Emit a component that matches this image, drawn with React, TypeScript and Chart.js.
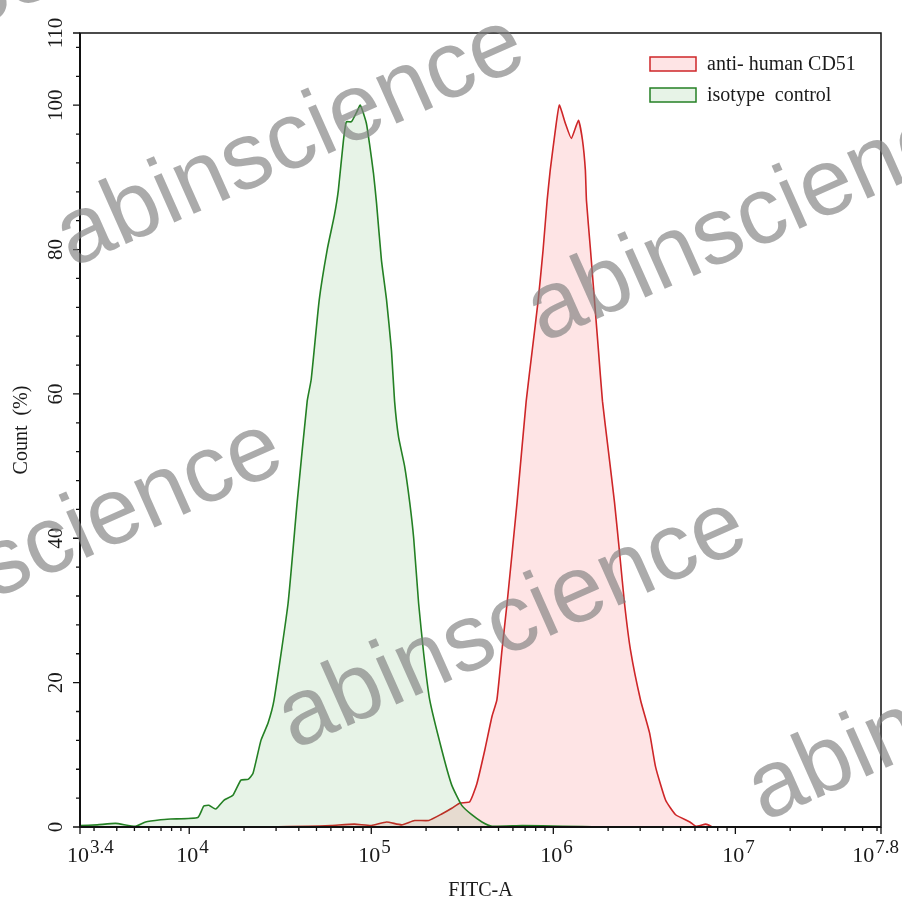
import React, { useEffect, useRef } from 'react';
import { Chart, registerables } from 'chart.js';

Chart.register(...registerables);

// ---- data (x in log10 of FITC-A intensity, y in Count %) ----
const isotypeLog = [3.40, 3.495, 3.595, 3.705, 3.76, 3.843, 3.898, 4.047, 4.08, 4.108, 4.146, 4.19, 4.24, 4.284, 4.323, 4.35, 4.394, 4.433, 4.466, 4.543, 4.593, 4.648, 4.67, 4.714, 4.758, 4.797, 4.819, 4.847, 4.863, 4.891, 4.919, 4.94, 4.973, 4.99, 5.012, 5.029, 5.056, 5.084, 5.111, 5.128, 5.15, 5.183, 5.211, 5.233, 5.26, 5.288, 5.321, 5.387, 5.442, 5.497, 5.552, 5.608, 5.663, 5.829, 6.05, 6.27];
const isotypeCount = [0.2, 0.3, 0.5, 0.1, 0.7, 1.0, 1.1, 1.3, 2.9, 3.0, 2.5, 3.7, 4.4, 6.5, 6.6, 7.4, 12, 14.4, 17.6, 31, 45, 59, 62, 73, 80, 84.7, 88.2, 95.1, 97.7, 97.7, 99, 100, 97.5, 94.7, 90.6, 86.4, 78.5, 73, 66, 59, 54, 50, 45, 40, 31, 24, 17.6, 10.7, 5.8, 3, 1.7, 0.7, 0.1, 0.2, 0.1, 0];

const cd51Log = [4.433, 4.654, 4.78, 4.907, 5.001, 5.084, 5.167, 5.238, 5.316, 5.387, 5.442, 5.486, 5.541, 5.58, 5.624, 5.663, 5.69, 5.718, 5.746, 5.801, 5.851, 5.884, 5.917, 5.944, 5.966, 5.983, 6.011, 6.033, 6.066, 6.099, 6.138, 6.16, 6.176, 6.182, 6.204, 6.226, 6.248, 6.27, 6.303, 6.336, 6.364, 6.391, 6.424, 6.479, 6.529, 6.562, 6.617, 6.672, 6.75, 6.783, 6.838, 6.876];
const cd51Count = [0, 0.1, 0.2, 0.4, 0.2, 0.7, 0.3, 0.9, 0.9, 1.8, 2.6, 3.3, 3.5, 6, 10.7, 15.3, 17.6, 24.5, 31, 45, 59, 66, 73, 80, 86.8, 91, 96.5, 100, 97.5, 95.4, 97.9, 95.2, 91, 86.8, 80, 73, 66, 59, 52, 45, 38, 31, 24.5, 17.6, 13, 8.3, 3.7, 1.7, 0.7, 0.1, 0.4, 0];

const seriesNames = ['anti- human CD51', 'isotype  control'];
const xAxisTitle = 'FITC-A';
const yAxisTitle = 'Count  (%)';
const xMin = 3.4;
const xMax = 7.8;
const xMajorExp = [3.4, 4, 5, 6, 7, 7.8];
const yMajorTicks = [0, 20, 40, 60, 80, 100, 110];
const yMinorTicks = [4, 8, 12, 16, 24, 28, 32, 36, 44, 48, 52, 56, 64, 68, 72, 76, 84, 88, 92, 96, 104, 108];
const watermarkText = 'abinscience';

// styles
const RED_LINE = 'rgb(206,38,40)';
const RED_FILL = 'rgba(245,30,45,0.12)';
const GREEN_LINE = 'rgb(36,128,36)';
const GREEN_FILL = 'rgba(20,140,20,0.10)';
const SERIF = '"Liberation Serif", "Times New Roman", serif';

const watermarkOrigins = [
  [-396, 193],
  [72, 268],
  [543, 343],
  [-170, 672],
  [294, 750],
  [764, 822],
];

const axesPlugin = {
  id: 'customAxes',
  afterDatasetsDraw(chart: any) {
    const { ctx, chartArea } = chart;
    const xs = chart.scales.x;
    const ys = chart.scales.y;
    const { left, right, top, bottom } = chartArea;
    ctx.save();
    // frame
    ctx.strokeStyle = '#111';
    ctx.lineWidth = 1.5;
    ctx.strokeRect(left, top, right - left, bottom - top);
    ctx.lineWidth = 2;
    ctx.beginPath();
    ctx.moveTo(left, top);
    ctx.lineTo(left, bottom);
    ctx.lineTo(right, bottom);
    ctx.stroke();

    // x ticks
    ctx.lineWidth = 1.3;
    ctx.beginPath();
    for (let n = 3; n <= 7; n++) {
      for (let k = 2; k <= 9; k++) {
        const v = k * Math.pow(10, n);
        if (v <= Math.pow(10, xMin) || v >= Math.pow(10, xMax)) continue;
        const px = xs.getPixelForValue(v);
        ctx.moveTo(px, bottom);
        ctx.lineTo(px, bottom + 4);
      }
    }
    xMajorExp.forEach((e) => {
      const px = xs.getPixelForValue(Math.pow(10, e));
      ctx.moveTo(px, bottom);
      ctx.lineTo(px, bottom + 7);
    });
    // y ticks
    yMinorTicks.forEach((v) => {
      const py = ys.getPixelForValue(v);
      ctx.moveTo(left, py);
      ctx.lineTo(left - 4, py);
    });
    yMajorTicks.forEach((v) => {
      const py = ys.getPixelForValue(v);
      ctx.moveTo(left, py);
      ctx.lineTo(left - 7, py);
    });
    ctx.stroke();

    // x tick labels
    ctx.fillStyle = '#1a1a1a';
    ctx.textBaseline = 'alphabetic';
    ctx.textAlign = 'left';
    xMajorExp.forEach((e) => {
      const px = xs.getPixelForValue(Math.pow(10, e));
      ctx.font = `22px ${SERIF}`;
      const baseW = ctx.measureText('10').width;
      const sup = String(e);
      let startX = px - 2 - baseW / 2;
      ctx.font = `19px ${SERIF}`;
      const supW = ctx.measureText(sup).width;
      if (startX + baseW + 1 + supW > 899) startX = 899 - baseW - 1 - supW;
      ctx.font = `22px ${SERIF}`;
      ctx.fillText('10', startX, bottom + 35);
      ctx.font = `19px ${SERIF}`;
      ctx.fillText(sup, startX + baseW + 1, bottom + 26);
    });

    // y tick labels (rotated)
    ctx.font = `21px ${SERIF}`;
    ctx.textAlign = 'center';
    yMajorTicks.forEach((v) => {
      const py = ys.getPixelForValue(v);
      ctx.save();
      ctx.translate(left - 18, py);
      ctx.rotate(-Math.PI / 2);
      ctx.fillText(String(v), 0, 0);
      ctx.restore();
    });

    // axis titles
    ctx.font = `20px ${SERIF}`;
    ctx.textAlign = 'center';
    ctx.fillText(xAxisTitle, (left + right) / 2, bottom + 69);
    ctx.save();
    ctx.translate(27, (top + bottom) / 2);
    ctx.rotate(-Math.PI / 2);
    ctx.fillText(yAxisTitle, 0, 0);
    ctx.restore();

    // legend
    const rows = [
      { name: seriesNames[0], line: RED_LINE, fill: RED_FILL, y: top + 24 },
      { name: seriesNames[1], line: GREEN_LINE, fill: GREEN_FILL, y: top + 55 },
    ];
    rows.forEach((r) => {
      ctx.fillStyle = '#fff';
      ctx.fillRect(650, r.y, 46, 14);
      ctx.fillStyle = r.fill;
      ctx.fillRect(650, r.y, 46, 14);
      ctx.strokeStyle = r.line;
      ctx.lineWidth = 1.5;
      ctx.strokeRect(650, r.y, 46, 14);
      ctx.fillStyle = '#1a1a1a';
      ctx.textAlign = 'left';
      ctx.font = `20px ${SERIF}`;
      ctx.fillText(r.name, 707, r.y + 13);
    });

    // watermarks
    ctx.font = '95px "Liberation Sans", Arial, sans-serif';
    ctx.fillStyle = 'rgba(128,128,128,0.66)';
    ctx.textAlign = 'left';
    watermarkOrigins.forEach(([wx, wy]) => {
      ctx.save();
      ctx.translate(wx, wy);
      ctx.rotate((-24 * Math.PI) / 180);
      ctx.fillText(watermarkText, 0, 0);
      ctx.restore();
    });
    ctx.restore();
  },
};

export default function App() {
  const ref = useRef<HTMLCanvasElement | null>(null);
  useEffect(() => {
    if (!ref.current) return;
    const toPoints = (logs: number[], counts: number[]) =>
      logs.map((l, i) => ({ x: Math.pow(10, l), y: counts[i] }));
    const chart = new Chart(ref.current, {
      type: 'line',
      data: {
        datasets: [
          {
            label: seriesNames[1],
            data: toPoints(isotypeLog, isotypeCount),
            borderColor: GREEN_LINE,
            backgroundColor: GREEN_FILL,
            borderWidth: 1.6,
            fill: 'origin',
            pointRadius: 0,
            tension: 0.15,
          },
          {
            label: seriesNames[0],
            data: toPoints(cd51Log, cd51Count),
            borderColor: RED_LINE,
            backgroundColor: RED_FILL,
            borderWidth: 1.6,
            fill: 'origin',
            pointRadius: 0,
            tension: 0.15,
          },
        ],
      },
      options: {
        responsive: false,
        animation: false,
        devicePixelRatio: 1,
        layout: { padding: { left: 80, right: 21, top: 33, bottom: 79 } },
        plugins: { legend: { display: false }, tooltip: { enabled: false } },
        scales: {
          x: { type: 'logarithmic', min: Math.pow(10, xMin), max: Math.pow(10, xMax), display: false },
          y: { type: 'linear', min: 0, max: 110, display: false },
        },
      },
      plugins: [axesPlugin],
    });
    return () => chart.destroy();
  }, []);
  return (
    <div style={{ position: 'absolute', left: 0, top: 0, width: 902, height: 906, background: '#fff' }}>
      <canvas ref={ref} width={902} height={906} />
    </div>
  );
}
